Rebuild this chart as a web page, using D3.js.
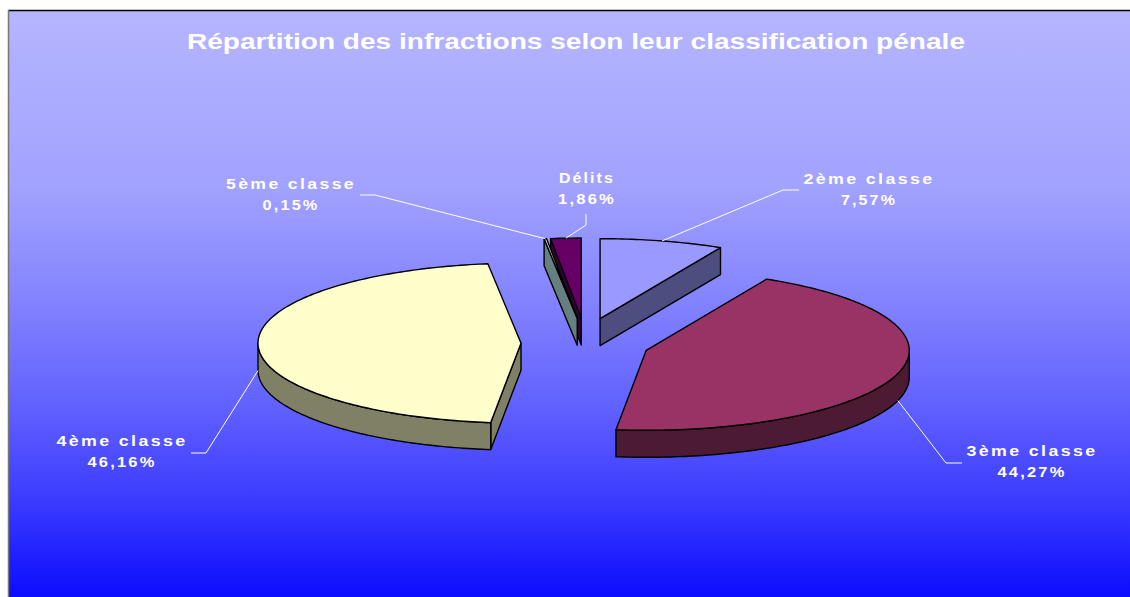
<!DOCTYPE html>
<html><head><meta charset="utf-8">
<script src="https://cdn.jsdelivr.net/npm/d3@7"></script>
<style>html,body{margin:0;padding:0;background:#fff;overflow:hidden;} svg{display:block;}</style>
</head><body><svg id="c" width="1130" height="597"></svg>
<script>
// ---- data ----
const title = "Répartition des infractions selon leur classification pénale";
const categories = ["2ème classe", "3ème classe", "4ème classe", "5ème classe", "Délits"];
const values = [7.57, 44.27, 46.16, 0.15, 1.86];
const valueLabels = ["7,57%", "44,27%", "46,16%", "0,15%", "1,86%"];
const colors = ["#9999FF", "#993366", "#FFFFCC", "#CCFFFF", "#660066"];

// ---- layout (label placement, not data) ----
const labelLayout = [
  {x: 869, y: 184, w1: 131, w2: 56, elbow: [783, 190], end: [799, 190]},
  {x: 1032, y: 456, w1: 131, w2: 69, elbow: [946, 463], end: [962, 463]},
  {x: 122, y: 446, w1: 131, w2: 69, elbow: [206, 453], end: [191, 453]},
  {x: 291, y: 189, w1: 130, w2: 57, elbow: [375, 195], end: [360, 195]},
  {x: 587, y: 183, w1: 56, w2: 58, elbow: [586, 225], end: [586, 214]}
];

const svg = d3.select("#c");
const W = 1130, H = 597;
const cx0 = 585, cy0 = 343, rx = 263, ry = 80, depth = 27, exX = 64, exY = 25;

// background gradient
const defs = svg.append("defs");
const grad = defs.append("linearGradient").attr("id", "bg")
  .attr("gradientUnits", "userSpaceOnUse").attr("x1", 0).attr("y1", 10).attr("x2", 0).attr("y2", 597);
[[0, "#B5B5FF"], [0.3, "#A2A2FF"], [0.5, "#8282FF"], [0.67, "#6262FF"], [0.84, "#3A3AFF"], [1, "#0C0CFF"]]
  .forEach(s => grad.append("stop").attr("offset", s[0]).attr("stop-color", s[1]));

svg.append("rect").attr("x", 8).attr("y", 10).attr("width", W).attr("height", H).attr("fill", "url(#bg)");
svg.append("line").attr("x1", 8).attr("x2", W).attr("y1", 10.5).attr("y2", 10.5).attr("stroke", "#000").attr("stroke-width", 1.5);
svg.append("line").attr("x1", 8.5).attr("x2", 8.5).attr("y1", 10).attr("y2", H).attr("stroke", "#777").attr("stroke-width", 1.5);

const font = "'Liberation Sans', Arial, sans-serif";

// title
svg.append("text").attr("x", 576).attr("y", 49).attr("text-anchor", "middle")
  .attr("font-family", font).attr("font-weight", "bold")
  .attr("font-size", 22).attr("fill", "#fff")
  .attr("textLength", 778).attr("lengthAdjust", "spacingAndGlyphs").text(title);

// pie
const data = categories.map((c, i) => ({cat: c, value: values[i], label: valueLabels[i], color: colors[i], i}));
const arcs = d3.pie().sort(null).value(d => d.value)(data);

function pt(c, a, dy) { return [c[0] + rx * Math.sin(a), c[1] - ry * Math.cos(a) + (dy || 0)]; }
function arcPts(c, a0, a1, dy) {
  const n = Math.max(2, Math.ceil(Math.abs(a1 - a0) / (Math.PI / 180)));
  return d3.range(n + 1).map(k => pt(c, a0 + (a1 - a0) * k / n, dy));
}
function half(col) { const r = d3.rgb(col); return d3.rgb(r.r * 0.5, r.g * 0.5, r.b * 0.5).formatHex(); }

arcs.forEach(d => {
  d.mid = (d.startAngle + d.endAngle) / 2;
  d.center = [cx0 + exX * Math.sin(d.mid), cy0 - exY * Math.cos(d.mid)];
});

const line = d3.line();
const order = arcs.slice().sort((a, b) => a.center[1] - b.center[1]);
const gPie = svg.append("g").attr("stroke", "#000").attr("stroke-width", 1.4).attr("stroke-linejoin", "round");

order.forEach(d => {
  const c = d.center, a0 = d.startAngle, a1 = d.endAngle;
  const side = half(d.data.color);
  const g = gPie.append("g");
  const cb = [c[0], c[1] + depth];
  if (Math.sin(a0) < -1e-6) {
    g.append("path").attr("fill", side)
      .attr("d", line([c, pt(c, a0), pt(c, a0, depth), cb]) + "Z");
  }
  if (Math.sin(a1) > 1e-6) {
    g.append("path").attr("fill", side)
      .attr("d", line([c, pt(c, a1), pt(c, a1, depth), cb]) + "Z");
  }
  const s = Math.max(a0, Math.PI / 2), e = Math.min(a1, 3 * Math.PI / 2);
  if (s < e) {
    const pts = arcPts(c, s, e, 0).concat(arcPts(c, s, e, depth).reverse());
    g.append("path").attr("fill", side).attr("d", line(pts) + "Z");
  }
  g.append("path").attr("fill", d.data.color)
    .attr("d", line([c].concat(arcPts(c, a0, a1, 0))) + "Z");
});

// leader lines + labels
arcs.forEach(d => {
  const L = labelLayout[d.data.i];
  const anchor = pt(d.center, d.mid, Math.cos(d.mid) < 0 ? depth : 0);
  svg.append("path").attr("fill", "none").attr("stroke", "#fff").attr("stroke-width", 1)
    .attr("d", line([anchor, L.elbow, L.end]));
  const t = svg.append("g").attr("fill", "#fff")
    .attr("font-family", font).attr("font-weight", "bold").attr("font-size", 15);
  t.append("text").attr("x", L.x - L.w1 / 2).attr("y", L.y)
    .attr("textLength", L.w1).attr("lengthAdjust", "spacingAndGlyphs")
    .attr("letter-spacing", "2px").text(d.data.cat);
  t.append("text").attr("x", L.x - L.w2 / 2).attr("y", L.y + 21)
    .attr("textLength", L.w2).attr("lengthAdjust", "spacingAndGlyphs")
    .attr("letter-spacing", "2px").text(d.data.label);
});
</script>
</body></html>
